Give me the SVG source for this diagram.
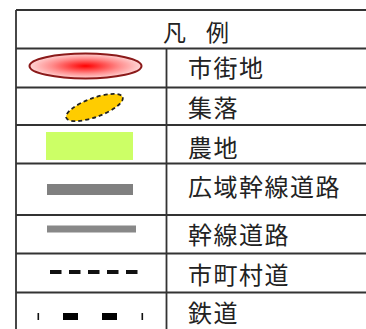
<svg xmlns="http://www.w3.org/2000/svg" width="366" height="329" viewBox="0 0 366 329">
<style>
.grid{stroke:#333;stroke-width:1.8;fill:none}
.t{font-family:"Noto Sans CJK JP","Noto Sans CJK SC",sans-serif;font-size:24px;letter-spacing:1.5px;fill:#222}
.h{font-family:"Noto Sans CJK JP","Noto Sans CJK SC",sans-serif;font-size:23px;fill:#222}
</style>
<defs>
<radialGradient id="rg" cx="50%" cy="50%" r="50%">
<stop offset="0" stop-color="#ff0000"/>
<stop offset="0.6" stop-color="#ff8c8c"/>
<stop offset="1" stop-color="#ffd6d6"/>
</radialGradient>
</defs>
<rect width="366" height="329" fill="#fff"/>
<g id="grid" class="grid">
<line x1="16" y1="10" x2="16" y2="329"/>
<line x1="166.5" y1="48.5" x2="166.5" y2="329"/>
<line x1="16" y1="10" x2="366" y2="10"/>
<line x1="16" y1="48.5" x2="366" y2="48.5"/>
<line x1="16" y1="87.5" x2="366" y2="87.5"/>
<line x1="16" y1="125" x2="366" y2="125"/>
<line x1="16" y1="163.5" x2="366" y2="163.5"/>
<line x1="16" y1="215" x2="366" y2="215"/>
<line x1="16" y1="253.5" x2="366" y2="253.5"/>
<line x1="16" y1="292.5" x2="366" y2="292.5"/>
</g>
<g id="header"><text x="163" y="41" class="h">凡</text><text x="206" y="41" class="h">例</text></g>
<g id="shigaichi">
<ellipse cx="85.5" cy="66" rx="56" ry="12.5" fill="url(#rg)" stroke="#8b1a1a" stroke-width="2"/>
<text x="188" y="77" class="t">市街地</text>
</g>
<g id="shuraku">
<ellipse cx="94.5" cy="107.5" rx="30" ry="9.5" transform="rotate(-20 94.5 107.5)" fill="#ffcc00" stroke="#222" stroke-width="1.8" stroke-dasharray="4 3"/>
<text x="188" y="117" class="t">集落</text>
</g>
<g id="nochi">
<rect x="46" y="132" width="87" height="28" fill="#ccff66"/>
<text x="188" y="157" class="t">農地</text>
</g>
<g id="kouiki">
<rect x="47" y="184" width="86" height="11" fill="#808080"/>
<text x="188" y="196" class="t">広域幹線道路</text>
</g>
<g id="kansen">
<rect x="47" y="225.5" width="89" height="7" fill="#888"/>
<text x="188" y="244" class="t">幹線道路</text>
</g>
<g id="shichoson">
<line x1="50" y1="272" x2="138" y2="272" stroke="#111" stroke-width="4" stroke-dasharray="11.5 7.5"/>
<text x="188" y="284" class="t">市町村道</text>
</g>
<g id="tetsudo">
<rect x="37.5" y="313" width="1.6" height="7" fill="#111"/>
<rect x="63" y="313" width="15" height="7" fill="#000"/>
<rect x="102" y="313" width="15" height="7" fill="#000"/>
<rect x="141.5" y="313" width="1.6" height="7" fill="#111"/>
<text x="188" y="322" class="t">鉄道</text>
</g>
</svg>
